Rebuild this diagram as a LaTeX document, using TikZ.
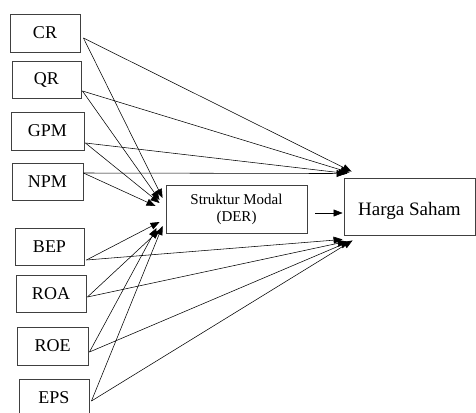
\documentclass[tikz,border=0pt]{standalone}
\usepackage{fontspec}
\setmainfont{Liberation Serif}
\usetikzlibrary{arrows.meta}
\begin{document}
\begin{tikzpicture}[x=1pt,y=-1pt,
  varbox/.style={draw=black!75,line width=0.9pt,inner sep=0pt,font=\fontsize{18}{20}\selectfont},
  link/.style={line width=0.55pt,-{Triangle[length=9pt,width=7pt]}}]
\useasboundingbox (0,0) rectangle (476,412);
\node[varbox,minimum width=70pt,minimum height=38pt] (CR)  at (45,33) {CR};
\node[varbox,minimum width=69pt,minimum height=37pt] (QR)  at (46.5,79.5) {QR};
\node[varbox,minimum width=73pt,minimum height=38pt] (GPM) at (47.5,131) {GPM};
\node[varbox,minimum width=71pt,minimum height=37pt] (NPM) at (47.5,181.5) {NPM};
\node[varbox,minimum width=69pt,minimum height=37pt] (BEP) at (49.5,246.5) {BEP};
\node[varbox,minimum width=70pt,minimum height=37pt] (ROA) at (51,293.5) {ROA};
\node[varbox,minimum width=71pt,minimum height=38pt] (ROE) at (52.5,346) {ROE};
\node[varbox,minimum width=70pt,minimum height=37pt] (EPS) at (54,398) {EPS};
\node[varbox,minimum width=141pt,minimum height=48pt,align=center,
      font=\fontsize{15}{17}\selectfont] (DER) at (236.5,209) {Struktur Modal\\(DER)};
\node[varbox,minimum width=131pt,minimum height=57pt,text height=20pt,text depth=3pt,
      font=\fontsize{19}{21}\selectfont] (HS) at (409.5,206.5) {Harga Saham};
% to DER
\draw[link] ([shift={(3,5)}]CR.east)    -- ([shift={(-3,-11)}]DER.west);
\draw[link] ([shift={(1,11.5)}]QR.east) -- ([shift={(-6,-9)}]DER.west);
\draw[link] ([shift={(1,12)}]GPM.east)  -- ([shift={(-6,-6)}]DER.west);
\draw[link] ([shift={(0,-8.5)}]NPM.east)-- ([shift={(-10,-3)}]DER.west);
\draw[link] ([shift={(2,13.5)}]BEP.east)-- ([shift={(-6,13)}]DER.west);
\draw[link] ([shift={(1,3.5)}]ROA.east) -- ([shift={(-6,21)}]DER.west);
\draw[link] ([shift={(1,6)}]ROE.east)   -- ([shift={(-9,19)}]DER.west);
\draw[link] ([shift={(2,3)}]EPS.east)   -- ([shift={(-3,17)}]DER.west);
% to Harga Saham
\draw[link] ([shift={(3,5)}]CR.east)    -- ([shift={(8,-6)}]HS.north west);
\draw[link] ([shift={(1,11.5)}]QR.east) -- ([shift={(6,-5)}]HS.north west);
\draw[link] ([shift={(1,12)}]GPM.east)  -- ([shift={(4,-4)}]HS.north west);
\draw[link] ([shift={(0,-8.5)}]NPM.east)-- ([shift={(2,-4)}]HS.north west);
\draw[link] ([shift={(2,13.5)}]BEP.east)-- ([shift={(-1,4)}]HS.south west);
\draw[link] ([shift={(1,3.5)}]ROA.east) -- ([shift={(3,6)}]HS.south west);
\draw[link] ([shift={(1,6)}]ROE.east)   -- ([shift={(6,6)}]HS.south west);
\draw[link] ([shift={(2,3)}]EPS.east)   -- ([shift={(9,5)}]HS.south west);
% DER to Harga Saham
\draw[link] ([shift={(8,4)}]DER.east) -- ([shift={(-1,6.5)}]HS.west);
\end{tikzpicture}
\end{document}
